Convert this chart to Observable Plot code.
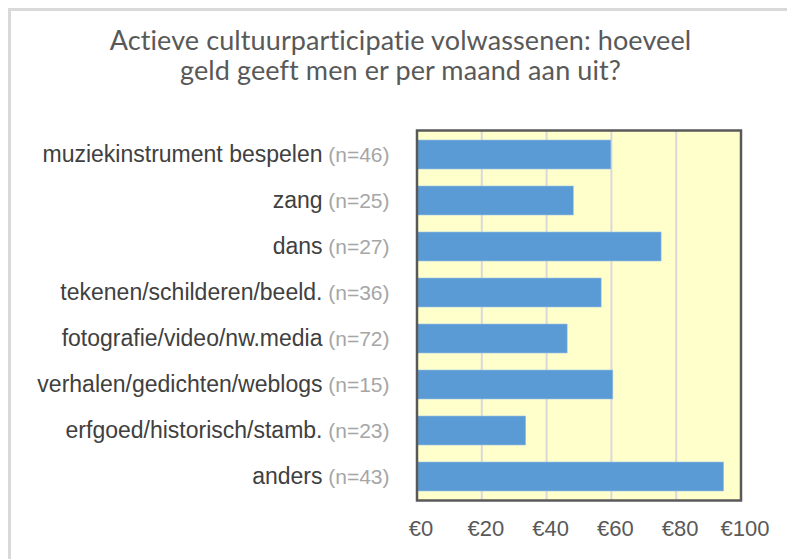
<!DOCTYPE html>
<html>
<head>
<meta charset="utf-8">
<script src="https://cdn.jsdelivr.net/npm/d3@7"></script>
<script src="https://cdn.jsdelivr.net/npm/@observablehq/plot@0.6"></script>
<style>
  html, body { margin: 0; padding: 0; background: #fff; overflow: hidden; }
  #wrap { position: relative; width: 787px; height: 559px; }
  #border { position: absolute; left: 8px; top: 8px; width: 900px; height: 900px; border: 3px solid #D9D9D9; box-sizing: border-box; pointer-events: none; }
  #title { position: relative; height: 100px; box-sizing: border-box; padding-top: 25px; width: 801px;
           text-align: center; font-family: Lato, "Open Sans", sans-serif; font-size: 27px; line-height: 30px; color: #595959; letter-spacing: 0.1px; }
  #chart svg { display: block; }
  #chart svg text { font-family: "Liberation Sans", Arial, sans-serif; }
</style>
</head>
<body>
<div id="wrap">
  <div id="border"></div>
  <div id="title">Actieve cultuurparticipatie volwassenen: hoeveel<br>geld geeft men er per maand aan uit?</div>
  <div id="chart"></div>
</div>
<script>
const categories = [
  "muziekinstrument bespelen",
  "zang",
  "dans",
  "tekenen/schilderen/beeld.",
  "fotografie/video/nw.media",
  "verhalen/gedichten/weblogs",
  "erfgoed/historisch/stamb.",
  "anders"
];
const counts = [46, 25, 27, 36, 72, 15, 23, 43];
const values = [60, 48.4, 75.5, 57, 46.5, 60.6, 33.7, 94.8];
const xTicks = [0, 20, 40, 60, 80, 100];

const data = categories.map((c, i) => ({cat: c, value: values[i], nLabel: `(n=${counts[i]})`}));

const chart = Plot.plot({
  width: 787,
  height: 459,
  marginLeft: 416.5,
  marginRight: 46.5,
  marginTop: 30,
  marginBottom: 59,
  style: {fontFamily: "'Liberation Sans', Arial, sans-serif", fontSize: "22px", color: "#595959", background: "transparent", overflow: "visible"},
  x: {domain: [0, 100], label: null},
  y: {domain: categories, paddingInner: 0.37, paddingOuter: 0.185, axis: null},
  marks: [
    Plot.frame({fill: "#FFFFCC"}),
    Plot.ruleX(xTicks.slice(1, -1), {stroke: "#D9D9D9", strokeWidth: 2}),
    Plot.barX(data, {x: "value", y: "cat", fill: "#5B9BD5", stroke: "#9DC3E6", strokeWidth: 0.6}),
    Plot.frame({stroke: "#595959", strokeWidth: 2.5}),
    Plot.axisX({ticks: xTicks, tickFormat: d => "€" + d, tickSize: 0, tickPadding: 20, dx: 4, fontSize: 22, label: null, fill: "#595959"}),
    Plot.text(data, {x: 0, y: "cat", text: "nLabel", textAnchor: "end", dx: -27.5, fill: "#A6A6A6", fontSize: 21}),
    Plot.text(data, {x: 0, y: "cat", text: "cat", textAnchor: "end", dx: -94.5, fill: "#404040", fontSize: 23})
  ]
});
document.getElementById("chart").appendChild(chart);
</script>
</body>
</html>
